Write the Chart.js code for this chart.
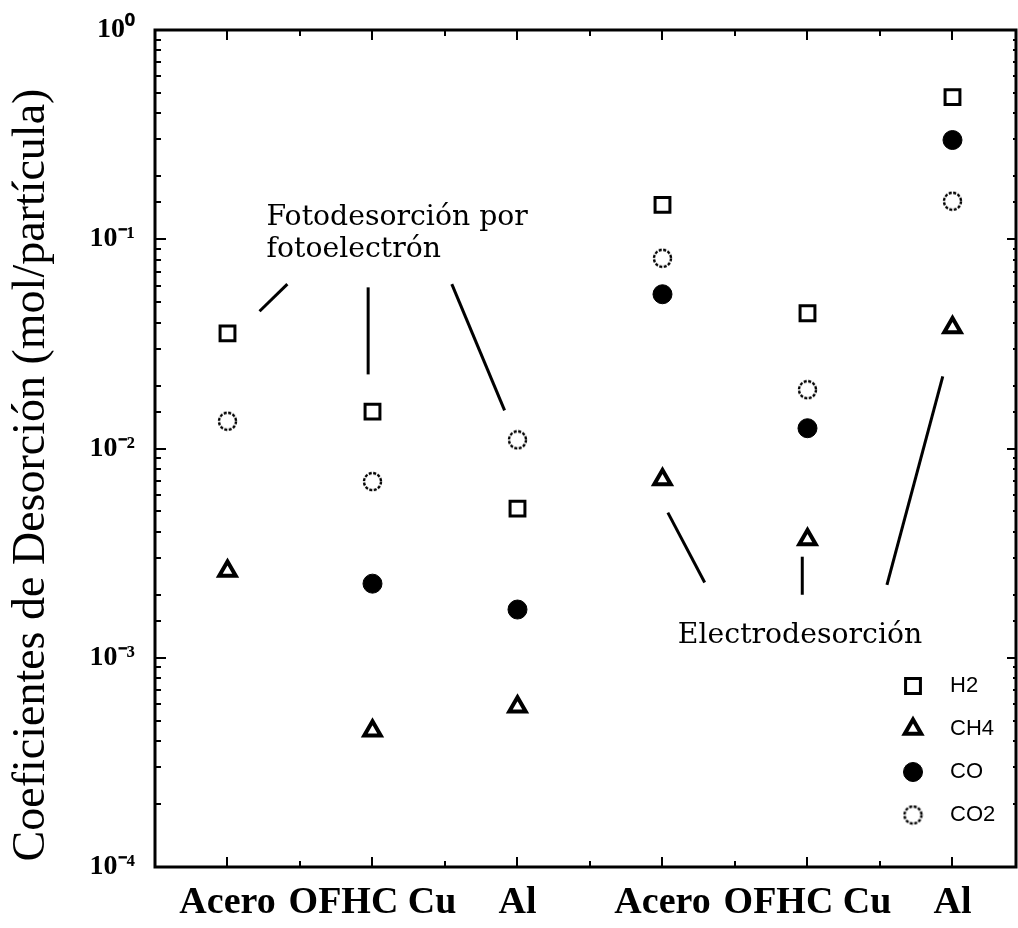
<!DOCTYPE html>
<html>
<head>
<meta charset="utf-8">
<script src="https://cdn.jsdelivr.net/npm/chart.js@4.4.1/dist/chart.umd.min.js"></script>
<style>
  html, body { margin: 0; padding: 0; background: #fff; }
</style>
</head>
<body>
<canvas id="desorcion" width="1018" height="928"></canvas>
<script>
// materiales (dos grupos: fotodesorcion / electrodesorcion)
var categories = ['Acero', 'OFHC Cu', 'Al', 'Acero', 'OFHC Cu', 'Al'];
var seriesNames = ['H2', 'CH4', 'CO', 'CO2'];

// coeficientes de desorcion (mol/particula)
var h2  = [0.0355, 0.0150, 0.00516, 0.146, 0.0443, 0.478];
var ch4 = [0.0026, 0.000448, 0.000584, 0.00711, 0.00367, 0.0379];
var co  = [null, 0.00226, 0.0017, 0.0546, 0.0125, 0.298];
var co2 = [0.0135, 0.00695, 0.0110, 0.0811, 0.0191, 0.152];

var yTickValues = [1, 0.1, 0.01, 0.001, 0.0001];
var yTickLabels = ['10\u2070', '10\u207B\u00B9', '10\u207B\u00B2', '10\u207B\u00B3', '10\u207B\u2074'];
var yTitle = 'Coeficientes de Desorción (mol/partícula)';

// anotaciones, en coordenadas de datos (x, y)
var noteTexts = ['Fotodesorción por', 'fotoelectrón', 'Electrodesorción'];
var noteAnchors = [[1.269, 0.1167], [1.269, 0.0820], [4.106, 0.00118]];
var leaderLines = [
    [[1.221, 0.0453], [1.413, 0.0610]],
    [[1.970, 0.0589], [1.970, 0.0226]],
    [[2.547, 0.0610], [2.911, 0.0152]],
    [[4.037, 0.00494], [4.291, 0.00229]],
    [[4.964, 0.00304], [4.964, 0.00200]],
    [[5.933, 0.0221], [5.548, 0.00223]]
];

function points(values) {
    var out = [];
    values.forEach(function(v, i) {
        if (v !== null) out.push({ x: i + 1, y: v });
    });
    return out;
}

// circulo punteado para CO2
function dottedCircle(r) {
    var c = document.createElement('canvas');
    var s = Math.ceil(2 * r + 4);
    c.width = s; c.height = s;
    var g = c.getContext('2d');
    g.strokeStyle = '#000';
    g.lineWidth = 2.4;
    g.setLineDash([3, 1.5]);
    g.beginPath();
    g.arc(s / 2, s / 2, r, 0, Math.PI * 2);
    g.stroke();
    return c;
}
var co2Marker = dottedCircle(8.5);

function isMajor(v) {
    var l = Math.log10(v);
    return Math.abs(l - Math.round(l)) < 1e-6;
}

var framePlugin = {
    id: 'frame',
    afterDraw: function(chart) {
        var ctx = chart.ctx;
        var a = chart.chartArea;
        var xs = chart.scales.x, ys = chart.scales.y;
        ctx.save();
        ctx.strokeStyle = '#000';
        ctx.lineCap = 'butt';

        // ticks hacia dentro
        ctx.lineWidth = 2;
        ys.ticks.forEach(function(t) {
            var y = Math.round(ys.getPixelForValue(t.value));
            var major = isMajor(t.value);
            var lenL = major ? 11 : 6, lenR = major ? 9 : 3;
            ctx.beginPath();
            ctx.moveTo(a.left, y); ctx.lineTo(a.left + lenL, y);
            ctx.moveTo(a.right, y); ctx.lineTo(a.right - lenR, y);
            ctx.stroke();
        });
        xs.ticks.forEach(function(t) {
            if (t.value <= xs.min) return;
            var x = Math.round(xs.getPixelForValue(t.value));
            var major = Number.isInteger(t.value);
            var len = major ? 10 : 6;
            ctx.beginPath();
            ctx.moveTo(x, a.bottom); ctx.lineTo(x, a.bottom - len);
            ctx.moveTo(x, a.top); ctx.lineTo(x, a.top + len);
            ctx.stroke();
        });

        // marco
        ctx.lineWidth = 3;
        ctx.strokeRect(a.left, a.top, a.right - a.left, a.bottom - a.top);

        // lineas guia
        ctx.lineWidth = 3;
        leaderLines.forEach(function(seg) {
            ctx.beginPath();
            ctx.moveTo(xs.getPixelForValue(seg[0][0]), ys.getPixelForValue(seg[0][1]));
            ctx.lineTo(xs.getPixelForValue(seg[1][0]), ys.getPixelForValue(seg[1][1]));
            ctx.stroke();
        });

        // textos
        ctx.fillStyle = '#000';
        ctx.font = '28.3px "DejaVu Serif"';
        ctx.textAlign = 'left';
        ctx.textBaseline = 'alphabetic';
        noteTexts.forEach(function(txt, i) {
            ctx.fillText(txt, xs.getPixelForValue(noteAnchors[i][0]), ys.getPixelForValue(noteAnchors[i][1]));
        });

        // titulo del eje y
        ctx.save();
        ctx.translate(44, 475);
        ctx.rotate(-Math.PI / 2);
        ctx.font = '46px "Liberation Serif"';
        ctx.textAlign = 'center';
        ctx.fillText(yTitle, 0, 0);
        ctx.restore();

        // leyenda
        var lx = 913, ly = 686, step = 43;
        ctx.font = '22px "Liberation Sans"';
        ctx.textBaseline = 'middle';
        chart.data.datasets.forEach(function(ds, i) {
            var y = ly + i * step;
            ctx.save();
            ctx.fillStyle = ds.backgroundColor;
            ctx.strokeStyle = ds.borderColor;
            ctx.lineWidth = ds.borderWidth;
            Chart.helpers.drawPoint(ctx, {
                pointStyle: ds.pointStyle,
                radius: ds.pointRadius,
                borderWidth: ds.borderWidth,
                rotation: 0
            }, lx, y);
            ctx.restore();
            ctx.fillStyle = '#000';
            ctx.fillText(ds.label, lx + 37, y);
        });
        ctx.restore();
    }
};

var ctx = document.getElementById('desorcion').getContext('2d');
var chart = new Chart(ctx, {
    type: 'scatter',
    data: {
        datasets: [
            { label: seriesNames[0], data: points(h2), pointStyle: 'rect', pointRadius: 10.5,
              backgroundColor: '#fff', borderColor: '#000', borderWidth: 3 },
            { label: seriesNames[1], data: points(ch4), pointStyle: 'triangle', pointRadius: 9.5,
              backgroundColor: '#fff', borderColor: '#000', borderWidth: 4 },
            { label: seriesNames[2], data: points(co), pointStyle: 'circle', pointRadius: 9.5,
              backgroundColor: '#000', borderColor: '#000', borderWidth: 1 },
            { label: seriesNames[3], data: points(co2), pointStyle: co2Marker, pointRadius: 9,
              backgroundColor: '#fff', borderColor: '#000', borderWidth: 0 }
        ]
    },
    options: {
        responsive: false,
        animation: false,
        devicePixelRatio: 1,
        layout: { autoPadding: false, padding: { top: 30, right: 2, left: 0, bottom: 0 } },
        plugins: {
            legend: { display: false },
            tooltip: { enabled: false }
        },
        scales: {
            x: {
                type: 'linear',
                min: 0.5,
                max: 6.438,
                afterFit: function(s) { s.height = 61; },
                afterBuildTicks: function(s) {
                    var t = [];
                    categories.forEach(function(c, i) {
                        t.push({ value: i + 1 });
                        if (i < categories.length - 1) t.push({ value: i + 1.5 });
                    });
                    s.ticks = t;
                },
                grid: { display: false, drawTicks: true, tickLength: 13 },
                border: { display: false },
                ticks: {
                    autoSkip: false,
                    maxRotation: 0,
                    padding: 0,
                    color: '#000',
                    font: { family: '"Liberation Serif"', size: 38, weight: 'bold' },
                    callback: function(v) {
                        return Number.isInteger(v) ? categories[v - 1] : '';
                    }
                }
            },
            y: {
                type: 'logarithmic',
                min: 0.0001,
                max: 1,
                afterFit: function(s) { s.width = 155; },
                grid: { display: false, drawTicks: true, tickLength: 20 },
                border: { display: false },
                ticks: {
                    autoSkip: false,
                    padding: 0,
                    color: '#000',
                    font: { family: '"Liberation Serif"', size: 28, weight: 'bold' },
                    callback: function(v) {
                        var i = yTickValues.findIndex(function(t) { return Math.abs(t - v) / t < 1e-6; });
                        return i >= 0 ? yTickLabels[i] : '';
                    }
                }
            }
        }
    },
    plugins: [framePlugin]
});
</script>
</body>
</html>
